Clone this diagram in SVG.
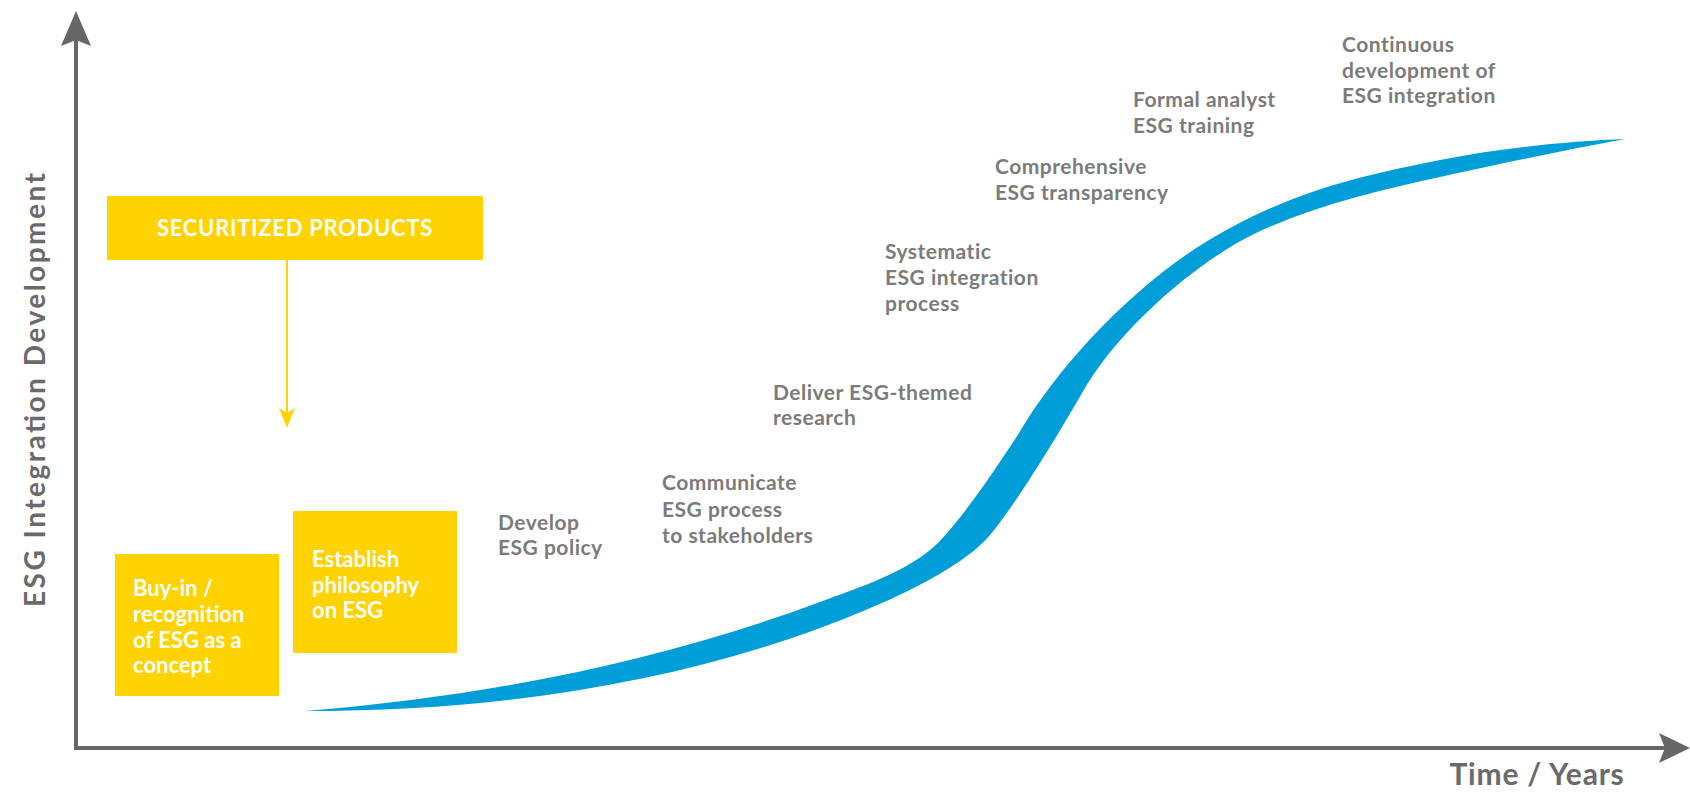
<svg xmlns="http://www.w3.org/2000/svg" width="1690" height="795" viewBox="0 0 1690 795">
<defs>
<style>
.axis{stroke:#666666;stroke-width:4;fill:none}
.box{fill:#FFD200}
.wt{font-family:Lato,"Open Sans",sans-serif;font-weight:bold;fill:#ffffff;font-size:22px}
.gt{font-family:Lato,"Open Sans",sans-serif;font-weight:bold;fill:#7b7b7b;font-size:21px;letter-spacing:0.5px}
.ax{font-family:Lato,"Open Sans",sans-serif;font-weight:bold;fill:#6a6a6a}
</style>
</defs>
<rect width="1690" height="795" fill="#ffffff"/>
<g id="axes">
<line class="axis" x1="76" y1="40" x2="76" y2="749"/>
<line class="axis" x1="74" y1="748" x2="1665" y2="748"/>
<path d="M76,11 L91,46 L76,40 L61,46 Z" fill="#666666"/>
<path d="M1690,748 L1659,763 L1665,748 L1659,733 Z" fill="#666666"/>
<text class="ax" x="1537" y="785" font-size="30" letter-spacing="0.8" text-anchor="middle">Time / Years</text>
<text class="ax" transform="translate(45,390) rotate(-90)" font-size="28" text-anchor="middle" textLength="434" lengthAdjust="spacing">ESG Integration Development</text>
</g>
<g id="curve">
<path fill="#009ED8" d="M305,711 C492,696 664,660 820,602 C860,587 908,572 938,543 C965,515 999,464 1019,433 C1059,365 1134,285 1209,240 C1289,192 1360,176 1440,160 C1500,148 1570,141 1625,139 C1565,150 1500,164 1440,177 C1380,190 1312,206 1254,234 C1204,258 1122,323 1082,393 C1052,445 1015,505 990,535 C960,571 880,606 820,628 C671,683 499,711 305,711 Z"/>
</g>
<g id="securitized">
<rect class="box" x="107" y="196" width="376" height="64"/>
<text class="wt" x="295" y="236" font-size="23" letter-spacing="0.7" text-anchor="middle">SECURITIZED PRODUCTS</text>
</g>
<g id="buyin">
<rect class="box" x="115" y="554" width="164" height="142"/>
<text class="wt" x="133" y="596">Buy-in /</text>
<text class="wt" x="133" y="622">recognition</text>
<text class="wt" x="133" y="648">of ESG as a</text>
<text class="wt" x="133" y="673">concept</text>
</g>
<g id="establish">
<rect class="box" x="293" y="511" width="164" height="142"/>
<text class="wt" x="312" y="567">Establish</text>
<text class="wt" x="312" y="593">philosophy</text>
<text class="wt" x="312" y="618">on ESG</text>
</g>
<g id="develop">
<text class="gt" x="498" y="530">Develop</text>
<text class="gt" x="498" y="555">ESG policy</text>
</g>
<g id="communicate">
<text class="gt" x="662" y="490">Communicate</text>
<text class="gt" x="662" y="517">ESG process</text>
<text class="gt" x="662" y="543">to stakeholders</text>
</g>
<g id="deliver">
<text class="gt" x="773" y="400">Deliver ESG-themed</text>
<text class="gt" x="773" y="425">research</text>
</g>
<g id="systematic">
<text class="gt" x="885" y="259">Systematic</text>
<text class="gt" x="885" y="285">ESG integration</text>
<text class="gt" x="885" y="311">process</text>
</g>
<g id="comprehensive">
<text class="gt" x="995" y="174">Comprehensive</text>
<text class="gt" x="995" y="200">ESG transparency</text>
</g>
<g id="formal">
<text class="gt" x="1133" y="107">Formal analyst</text>
<text class="gt" x="1133" y="133">ESG training</text>
</g>
<g id="continuous">
<text class="gt" x="1342" y="52">Continuous</text>
<text class="gt" x="1342" y="78">development of</text>
<text class="gt" x="1342" y="103">ESG integration</text>
</g>
<g id="connectors">
<line x1="287" y1="260" x2="287" y2="414" stroke="#FFD200" stroke-width="2"/>
<path d="M287,428 L279,408 L287,413 L295,408 Z" fill="#FFD200"/>
</g>
</svg>
